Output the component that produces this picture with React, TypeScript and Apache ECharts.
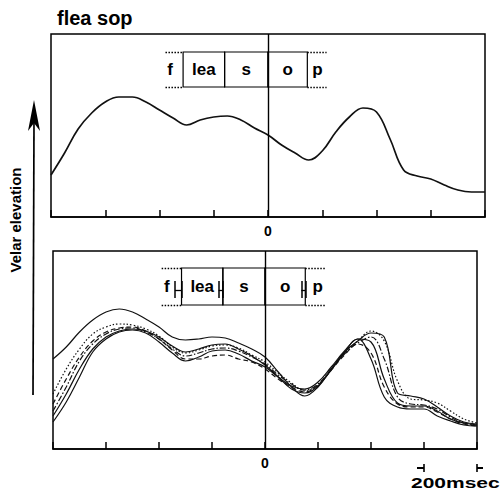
import React, { useEffect, useRef } from "react";
import * as echarts from "echarts";

const FONT = '"Liberation Sans", Arial, Helvetica, sans-serif';

// time axis (msec, 0 = s/o boundary)
const timeMs = [
  -800, -750, -700, -650, -600, -550, -500, -450, -400, -350, -300, -250, -200, -150, -100, -50,
  0, 50, 100, 150, 200, 250, 300, 350, 400, 450, 500, 550, 600, 650, 700, 750, 800,
];
const xTicks = [-800, -600, -400, -200, 0, 200, 400, 600, 800];
const xLabelShown = [0];

// upper panel: averaged velar trace
const topTrace = [42, 64, 88, 104, 115, 120, 120, 115, 107, 99, 92, 97, 100, 101, 97, 89, 82, 72, 64, 57, 66, 85, 100, 109, 105, 78, 47, 41, 38, 32, 27, 25, 25];

// lower panel: individual tokens
const tokenSolidHigh = [90, 102, 117, 129, 137, 140, 137, 130, 122, 112, 109, 110, 112, 111, 106, 100, 92, 77, 62, 53, 62, 80, 97, 108, 116, 112, 56, 53, 50, 42, 33, 27, 25];
const tokenSolidLow = [27, 47, 72, 97, 110, 117, 119, 116, 107, 96, 88, 92, 98, 99, 95, 88, 82, 72, 63, 60, 67, 82, 98, 110, 90, 52, 42, 40, 40, 33, 28, 24, 23];
const tokenDotted = [55, 80, 100, 115, 122, 125, 124, 120, 113, 102, 96, 99, 103, 104, 101, 94, 87, 76, 66, 58, 64, 80, 96, 108, 118, 108, 68, 50, 49, 46, 38, 30, 26];
const tokenDashDot = [38, 62, 88, 105, 115, 120, 121, 117, 110, 100, 93, 96, 100, 101, 98, 92, 85, 74, 65, 59, 65, 80, 95, 106, 112, 90, 52, 45, 44, 40, 32, 26, 24];
const tokenDashed = [45, 70, 92, 108, 117, 121, 122, 118, 110, 99, 90, 90, 93, 94, 90, 87, 80, 70, 62, 57, 64, 79, 94, 105, 96, 62, 45, 42, 42, 37, 30, 25, 23];
const tokenSolidMid = [33, 55, 80, 100, 112, 118, 120, 118, 112, 103, 97, 100, 104, 105, 100, 93, 84, 72, 60, 56, 63, 79, 96, 110, 107, 70, 46, 43, 43, 38, 30, 26, 24];

// segment boxes
const topSegments = [
  { label: "lea", from: -313, to: -160 },
  { label: "s", from: -160, to: 0 },
  { label: "o", from: 0, to: 145 },
];
const topBox = { low: 130, high: 165 };
const topOuterLabels = [
  { label: "f", at: -361 },
  { label: "p", at: 182 },
];
const topDotted = [
  { from: -378, to: -313 },
  { from: 145, to: 216 },
];

const bottomSegments = [
  { label: "lea", from: -315, to: -159 },
  { label: "s", from: -159, to: 0 },
  { label: "o", from: 0, to: 152 },
];
const bottomBox = { low: 144, high: 181 };
const bottomOuterLabels = [
  { label: "f", at: -370 },
  { label: "p", at: 199 },
];
const bottomDotted = [
  { from: -390, to: -315 },
  { from: 152, to: 226 },
];
const boundaryRanges = [
  { from: -340, to: -315 },
  { from: -175, to: -159 },
  { from: 137, to: 152 },
];
const rangeBar = { low: 151, mid: 159, high: 168 };
const scaleBarMs = [600, 800];
const scaleBarLabel = "200msec";

const TOP_MAX = 183;
const BOTTOM_MAX = 198;

function boxAreas(segs: any[], box: any, outer: any[]) {
  const inner = segs.map((s) => [
    { name: s.label, xAxis: s.from, yAxis: box.low },
    { xAxis: s.to, yAxis: box.high },
  ]);
  const out = outer.map((o) => [
    { name: o.label, xAxis: o.at - 14, yAxis: box.low, itemStyle: { borderWidth: 0, color: "rgba(0,0,0,0)" } },
    { xAxis: o.at + 14, yAxis: box.high },
  ]);
  return [...inner, ...out];
}

function guideLines(dotted: any[], box: any, ranges?: any[]) {
  const lines: any[] = [{ xAxis: 0, lineStyle: { type: "solid", width: 1.4 } }];
  dotted.forEach((d) => {
    [box.low, box.high].forEach((y) =>
      lines.push([
        { coord: [d.from, y], lineStyle: { type: [1.5, 1.5], width: 1.3 } },
        { coord: [d.to, y] },
      ])
    );
  });
  (ranges || []).forEach((r) => {
    lines.push([{ coord: [r.from, rangeBar.mid], lineStyle: { type: "solid", width: 1.3 } }, { coord: [r.to, rangeBar.mid] }]);
    lines.push([{ coord: [r.from, rangeBar.low], lineStyle: { type: "solid", width: 1.5 } }, { coord: [r.from, rangeBar.high] }]);
    lines.push([{ coord: [r.to, rangeBar.low], lineStyle: { type: "solid", width: 1.5 } }, { coord: [r.to, rangeBar.high] }]);
  });
  return lines;
}

const areaStyle = {
  silent: true,
  itemStyle: { color: "rgba(0,0,0,0)", borderColor: "#000", borderWidth: 1.2 },
  label: {
    show: true,
    position: "inside",
    formatter: "{b}",
    color: "#000",
    fontFamily: FONT,
    fontWeight: "bold",
    fontSize: 17,
  },
  emphasis: { disabled: true },
};

const lineBase = { silent: true, symbol: ["none", "none"], label: { show: false }, lineStyle: { color: "#000" }, emphasis: { disabled: true } };

function pairs(ys: number[]) {
  return timeMs.map((t, i) => [t, ys[i]]);
}

function makeX(gridIndex: number) {
  return {
    type: "value",
    gridIndex,
    min: -800,
    max: 800,
    interval: 200,
    axisLine: { show: true, lineStyle: { color: "#000", width: 1.5 } },
    axisTick: { show: true, inside: true, length: 7, lineStyle: { color: "#000", width: 1.5 }, customValues: xTicks },
    axisLabel: {
      show: true,
      margin: 7,
      color: "#000",
      fontFamily: FONT,
      fontWeight: "bold",
      fontSize: 14,
      formatter: (v: number) => (xLabelShown.indexOf(v) >= 0 ? String(v) : ""),
    },
    splitLine: { show: false },
  };
}

export default function App() {
  const ref = useRef<HTMLDivElement>(null);
  useEffect(() => {
    if (!ref.current) return;
    const chart = echarts.init(ref.current, null, { renderer: "svg" });
    const traceStyle = (type: any, width = 1.4) => ({ color: "#111", width, type });
    const tokenSeries = [
      { ys: tokenSolidHigh, type: "solid" },
      { ys: tokenSolidMid, type: "solid" },
      { ys: tokenSolidLow, type: "solid" },
      { ys: tokenDotted, type: [1.5, 2] },
      { ys: tokenDashDot, type: [6, 2, 1.5, 2] },
      { ys: tokenDashed, type: [5, 3] },
    ];
    const option: any = {
      animation: false,
      backgroundColor: "#fff",
      title: {
        text: "flea sop",
        left: 52,
        top: 3,
        textStyle: { fontFamily: FONT, fontWeight: "bold", fontSize: 20, color: "#000" },
      },
      grid: [
        { left: 51, top: 34, width: 434, height: 183, show: true, borderColor: "#000", borderWidth: 1.5 },
        { left: 53, top: 251, width: 424, height: 198, show: true, borderColor: "#000", borderWidth: 1.5 },
      ],
      xAxis: [makeX(0), makeX(1)],
      yAxis: [
        { type: "value", gridIndex: 0, min: 0, max: TOP_MAX, show: false },
        { type: "value", gridIndex: 1, min: 0, max: BOTTOM_MAX, show: false },
      ],
      series: [
        {
          type: "line",
          xAxisIndex: 0,
          yAxisIndex: 0,
          data: pairs(topTrace),
          smooth: 0.4,
          showSymbol: false,
          silent: true,
          lineStyle: traceStyle("solid", 1.7),
          markArea: { ...areaStyle, data: boxAreas(topSegments, topBox, topOuterLabels) },
          markLine: { ...lineBase, data: guideLines(topDotted, topBox) },
        },
        ...tokenSeries.map((s, i) => ({
          type: "line",
          xAxisIndex: 1,
          yAxisIndex: 1,
          data: pairs(s.ys),
          smooth: 0.4,
          showSymbol: false,
          silent: true,
          lineStyle: traceStyle(s.type, 1.2),
          ...(i === 0
            ? {
                markArea: { ...areaStyle, data: boxAreas(bottomSegments, bottomBox, bottomOuterLabels) },
                markLine: { ...lineBase, data: guideLines(bottomDotted, bottomBox, boundaryRanges) },
              }
            : {}),
        })),
      ],
    };
    chart.setOption(option);

    const p0 = chart.convertToPixel({ xAxisIndex: 1 }, scaleBarMs[0]) as number;
    const p1 = chart.convertToPixel({ xAxisIndex: 1 }, scaleBarMs[1]) as number;
    const yBase = chart.convertToPixel({ yAxisIndex: 1 }, 0) as number;
    const yb = yBase + 19;
    const stroke = { stroke: "#000", lineWidth: 1.6 };
    chart.setOption({
      graphic: {
        elements: [
          { type: "line", shape: { x1: 34, y1: 122, x2: 33, y2: 395 }, style: { ...stroke, lineWidth: 1.7 } },
          { type: "polygon", shape: { points: [[34, 100], [28, 131], [34, 123], [40, 131]] }, style: { fill: "#000" } },
          {
            type: "text",
            x: 15,
            y: 220,
            rotation: Math.PI / 2,
            style: {
              text: "Velar elevation",
              font: `bold 15px ${FONT}`,
              fill: "#000",
              textAlign: "center",
              textVerticalAlign: "middle",
            },
          },
          { type: "line", shape: { x1: p0 - 7, y1: yb, x2: p0, y2: yb }, style: { ...stroke, lineWidth: 2 } },
          { type: "line", shape: { x1: p0, y1: yb - 4, x2: p0, y2: yb + 4 }, style: stroke },
          { type: "line", shape: { x1: p1, y1: yb, x2: p1 + 6, y2: yb }, style: { ...stroke, lineWidth: 2 } },
          { type: "line", shape: { x1: p1, y1: yb - 4, x2: p1, y2: yb + 4 }, style: stroke },
          {
            type: "text",
            x: p0 - 13,
            y: yb + 15,
            scaleX: 1.5,
            style: {
              text: scaleBarLabel,
              font: `bold 14px ${FONT}`,
              fill: "#000",
              textAlign: "left",
              textVerticalAlign: "middle",
            },
          },
        ],
      },
    });
    return () => chart.dispose();
  }, []);
  return <div ref={ref} style={{ position: "absolute", left: 0, top: 0, width: 504, height: 490 }} />;
}
